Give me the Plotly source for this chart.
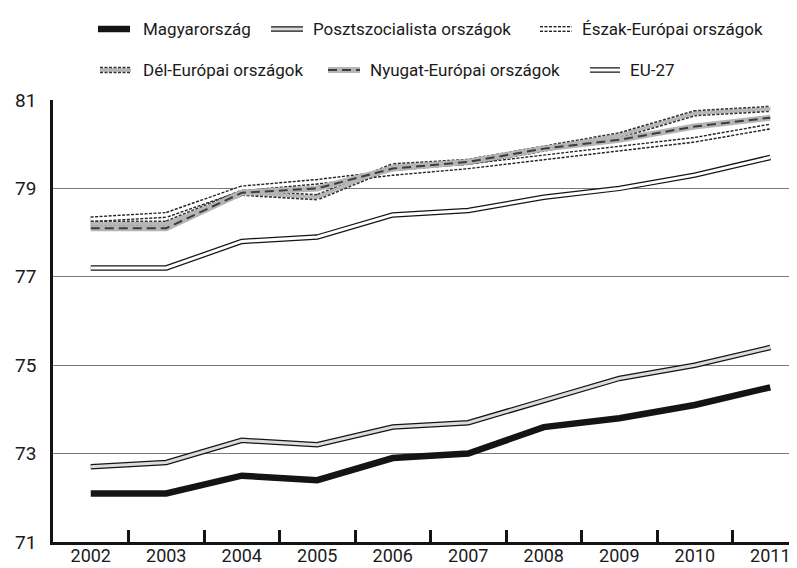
import plotly.graph_objects as go

# ---- data ----
years = ["2002", "2003", "2004", "2005", "2006", "2007", "2008", "2009", "2010", "2011"]
magyarorszag = [72.1, 72.1, 72.5, 72.4, 72.9, 73.0, 73.6, 73.8, 74.1, 74.5]
posztszocialista = [72.7, 72.8, 73.3, 73.2, 73.6, 73.7, 74.2, 74.7, 75.0, 75.4]
eszak_europai = [78.3, 78.4, 79.0, 79.15, 79.35, 79.5, 79.7, 79.9, 80.1, 80.4]
del_europai = [78.2, 78.2, 78.9, 78.8, 79.5, 79.6, 79.9, 80.2, 80.7, 80.8]
nyugat_europai = [78.1, 78.1, 78.9, 79.0, 79.45, 79.6, 79.9, 80.1, 80.4, 80.6]
eu27 = [77.2, 77.2, 77.8, 77.9, 78.4, 78.5, 78.8, 79.0, 79.3, 79.7]
y_ticks = [71, 73, 75, 77, 79, 81]

series_names = ["Magyarország", "Posztszocialista országok", "Észak-Európai országok",
                "Dél-Európai országok", "Nyugat-Európai országok", "EU-27"]

FONT = "Roboto, Liberation Sans, sans-serif"
DOT = "3px,1.5px"

# layered line styles: (color, width, dash)
styles = {
    "Magyarország": [("#141414", 6.5, "solid")],
    "Posztszocialista országok": [("#141414", 5.5, "solid"), ("#dcdcdc", 3, "solid")],
    "Észak-Európai országok": [("#222222", 6, DOT), ("#ffffff", 3.2, "solid")],
    "Dél-Európai országok": [("#333333", 6.5, DOT), ("#b7b7b7", 3.6, "solid")],
    "Nyugat-Európai országok": [("#b5b5b5", 6, "solid"), ("#3c3c3c", 2, "9px,5px")],
    "EU-27": [("#141414", 5.5, "solid"), ("#ffffff", 3, "solid")],
}

series_values = {
    "Magyarország": magyarorszag,
    "Posztszocialista országok": posztszocialista,
    "Észak-Európai országok": eszak_europai,
    "Dél-Európai országok": del_europai,
    "Nyugat-Európai országok": nyugat_europai,
    "EU-27": eu27,
}

draw_order = ["EU-27", "Észak-Európai országok", "Dél-Európai országok",
              "Nyugat-Európai országok", "Posztszocialista országok", "Magyarország"]

fig = go.Figure()
for name in draw_order:
    for color, width, dash in styles[name]:
        fig.add_trace(go.Scatter(
            x=years, y=series_values[name], mode="lines", name=name,
            line=dict(color=color, width=width, dash=dash),
            showlegend=False, hoverinfo="skip"))

# ---- custom legend ----
W, H = 797, 568
L, R, T, B = 45, 0, 92, 34
pw, ph = W - L - R, H - T - B


def px_x(p):
    return (p - L) / pw


def px_y(p):
    return (H - B - p) / ph


legend_layout = [
    ("Magyarország", 21, 90, 122, 133),
    ("Posztszocialista országok", 21, 263, 295, 303),
    ("Észak-Európai országok", 21, 532, 564, 572),
    ("Dél-Európai országok", 62, 92, 123, 133),
    ("Nyugat-Európai országok", 62, 320, 352, 360),
    ("EU-27", 62, 582, 612, 620),
]
shapes = []
annotations = []
for name, yy, s0, s1, tx in legend_layout:
    for color, width, dash in styles[name]:
        shapes.append(dict(type="line", xref="paper", yref="paper",
                           x0=px_x(s0), x1=px_x(s1), y0=px_y(yy), y1=px_y(yy),
                           line=dict(color=color, width=width, dash=dash)))
    annotations.append(dict(text=name, xref="paper", yref="paper", x=px_x(tx), y=px_y(yy),
                            xanchor="left", yanchor="middle", showarrow=False,
                            font=dict(family=FONT, size=17, color="#1a1a1a")))

fig.update_layout(
    width=W, height=H,
    margin=dict(l=L, r=R, t=T, b=B),
    paper_bgcolor="white", plot_bgcolor="white",
    showlegend=False,
    shapes=shapes, annotations=annotations,
    font=dict(family=FONT, size=18, color="#1a1a1a"),
)
fig.update_xaxes(
    type="category", categoryorder="array", categoryarray=years,
    range=[-0.5, 9.46], tickson="boundaries",
    ticks="inside", ticklen=12, tickwidth=2.5, tickcolor="#141414",
    showgrid=False, showline=True, linewidth=3, linecolor="#141414",
    tickfont=dict(family=FONT, size=18, color="#1a1a1a"), ticklabelstandoff=-5,
)
fig.update_yaxes(
    range=[71, 81], tickvals=y_ticks, ticktext=[str(v) for v in y_ticks],
    showgrid=True, gridcolor="#7a7a7a", gridwidth=1,
    showline=True, linewidth=2.5, linecolor="#141414", zeroline=False,
    ticks="", tickfont=dict(family=FONT, size=19, color="#1a1a1a"), ticklabelstandoff=10,
)

fig.write_html("out.html", config={"displayModeBar": False})
